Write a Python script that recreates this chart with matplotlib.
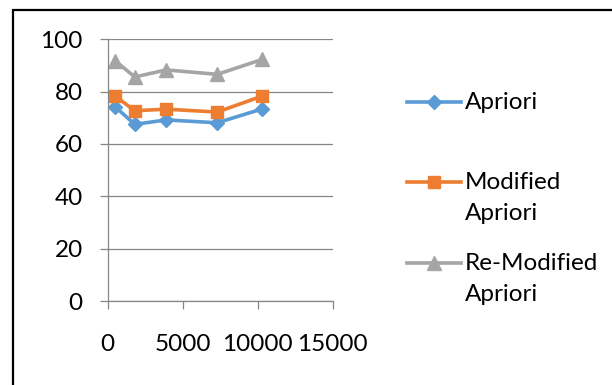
import matplotlib.pyplot as plt
from matplotlib.patches import Rectangle
from matplotlib.lines import Line2D

# Datos
x = [500, 1800, 3900, 7300, 10300]
apriori = [74.2, 67.5, 69.2, 68.1, 73.4]
modified = [78.3, 72.7, 73.3, 72.2, 78.3]
remodified = [91.8, 85.6, 88.3, 86.6, 92.3]
labels = ['Apriori', 'Modified\nApriori', 'Re-Modified\nApriori']

plt.rcParams['font.family'] = ['Lato', 'DejaVu Sans']
plt.rcParams['font.size'] = 17.5

W, H = 612, 385
fig = plt.figure(figsize=(W / 100, H / 100), dpi=100)
ax = fig.add_axes([0.176, 0.218, 0.3676, 0.680])

l1, = ax.plot(x, apriori, color='#5B9BD5', lw=2.6, marker='D', ms=7)
l2, = ax.plot(x, modified, color='#ED7D31', lw=2.6, marker='s', ms=9)
l3, = ax.plot(x, remodified, color='#A5A5A5', lw=2.6, marker='^', ms=10)

ax.set_xlim(0, 15000)
ax.set_ylim(0, 100)
ax.set_xticks([0, 5000, 10000, 15000])
ax.set_yticks(range(0, 101, 20))
ax.grid(axis='y', color='#868686', lw=0.9)
ax.set_axisbelow(True)
for s in ['top', 'right']:
    ax.spines[s].set_visible(False)
for s in ['left', 'bottom']:
    ax.spines[s].set_color('#868686')
    ax.spines[s].set_linewidth(0.9)
ax.tick_params(axis='both', color='#868686', width=0.9, length=6)
ax.tick_params(axis='y', pad=12)
ax.tick_params(axis='x', pad=18)

# leyenda a mano (simbolo alineado con la primera linea del texto)
for line, lab, yp in zip([l1, l2, l3], labels, [102, 182, 263]):
    yf = 1 - yp / H
    fig.add_artist(Line2D([407 / W, 461 / W], [yf, yf], transform=fig.transFigure,
                          color=line.get_color(), lw=line.get_linewidth()))
    fig.add_artist(Line2D([434 / W], [yf], transform=fig.transFigure,
                          color=line.get_color(), marker=line.get_marker(),
                          ms=line.get_markersize()))
    fig.text(465 / W, yf + 10 / H, lab, va='top', ha='left', linespacing=1.6)

# marco exterior
fig.patches.append(Rectangle((0.021, -0.1), 1.2, 1.074, transform=fig.transFigure,
                             fill=False, ec='black', lw=1.6))

fig.savefig('out.png', dpi=100)
